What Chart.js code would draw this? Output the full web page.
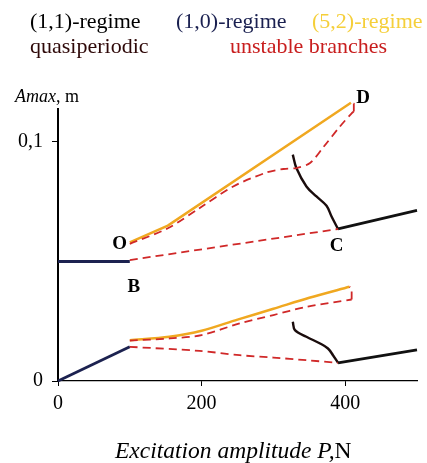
<!DOCTYPE html>
<html>
<head>
<meta charset="utf-8">
<script src="https://cdn.jsdelivr.net/npm/chart.js@4.4.1/dist/chart.umd.min.js"></script>
<style>
html, body { margin: 0; padding: 0; background: #fff; }
#wrap { position: relative; width: 427px; height: 463px; }
</style>
</head>
<body>
<div id="wrap"><canvas id="grafico" width="427" height="463"></canvas></div>
<script>
// Amax (m) vs excitation amplitude P (N)

const ticksP = [0, 200, 400];
const ticksA = [0, 0.1];

// (1,0)-regime
const p10Upper = [0, 100];
const a10Upper = [0.05, 0.05];
const p10Lower = [0, 100];
const a10Lower = [0, 0.0143];

// (1,1)-regime
const p11Upper = [390, 500];
const a11Upper = [0.0636, 0.0714];
const p11Lower = [390, 500];
const a11Lower = [0.0076, 0.013];

// (5,2)-regime
const p52Upper = [100, 153, 408];
const a52Upper = [0.058, 0.065, 0.1164];
const p52Lower = [100, 155, 200, 250, 300, 350, 406];
const a52Lower = [0.017, 0.0185, 0.021, 0.0257, 0.0302, 0.0348, 0.0394];

// quasiperiodic
const pQuasiUpper = [327, 332, 346, 360, 374, 381, 390];
const aQuasiUpper = [0.0947, 0.0891, 0.0814, 0.0772, 0.0733, 0.0688, 0.0636];
const pQuasiLower = [327, 330, 346, 365, 376, 383, 390];
const aQuasiLower = [0.0248, 0.0213, 0.0185, 0.0157, 0.0136, 0.0108, 0.0076];

// unstable branches
const pUnstUpper1 = [100, 153, 197, 244, 290, 314, 332, 351, 370, 393, 409, 412];
const aUnstUpper1 = [0.0574, 0.0639, 0.0723, 0.0814, 0.0872, 0.0887, 0.0891, 0.0912, 0.098, 0.1066, 0.112, 0.1128];
const pUnstUpper2 = [412, 412, 408];
const aUnstUpper2 = [0.1128, 0.116, 0.1164];
const pUnstUpper3 = [100, 390];
const aUnstUpper3 = [0.0506, 0.0636];
const pUnstLower1 = [100, 156, 200, 253, 300, 346, 409];
const aUnstLower1 = [0.0169, 0.0178, 0.0192, 0.0241, 0.0276, 0.031, 0.0341];
const pUnstLower2 = [409, 409, 406];
const aUnstLower2 = [0.0341, 0.0388, 0.0394];
const pUnstLower3 = [100, 197, 253, 300, 346, 390];
const aUnstLower3 = [0.0143, 0.0126, 0.0108, 0.0098, 0.0087, 0.0076];

// point labels
const pontosTexto = ["O", "B", "C", "D"];
const pontosP = [86, 105.5, 388, 425];
const pontosA = [0.0573, 0.0393, 0.0566, 0.1185];

const COR_11 = "#111111";
const COR_10 = "#1c2250";
const COR_52 = "#f0a820";
const COR_QUASI = "#1a0c0c";
const COR_UNST = "#d02828";
const SERIF = "'Liberation Serif', 'DejaVu Serif', serif";

function pares(xs, ys) {
    return xs.map((x, i) => ({ x: x, y: ys[i] }));
}

function serie(xs, ys, cor, largura, tensao, tracejado) {
    return {
        data: pares(xs, ys),
        borderColor: cor,
        borderWidth: largura,
        borderDash: tracejado ? [8, 5] : [],
        pointRadius: 0,
        tension: tensao,
        fill: false,
        clip: false
    };
}

const textos = {
    id: "textos",
    afterDraw(chart) {
        const ctx = chart.ctx;
        const sx = chart.scales.x;
        const sy = chart.scales.y;
        ctx.save();
        ctx.textBaseline = "middle";
        ctx.textAlign = "left";

        // legend
        ctx.font = "22px " + SERIF;
        ctx.fillStyle = "#000000";
        ctx.fillText("(1,1)-regime", 30, 22);
        ctx.fillStyle = "#1a2050";
        ctx.fillText("(1,0)-regime", 176, 22);
        ctx.fillStyle = "#f5cf3a";
        ctx.fillText("(5,2)-regime", 312, 22);
        ctx.fillStyle = "#2e0808";
        ctx.fillText("quasiperiodic", 30, 47);
        ctx.fillStyle = "#c81e1e";
        ctx.fillText("unstable branches", 230, 47);

        // y title
        ctx.fillStyle = "#000";
        ctx.font = "italic 18px " + SERIF;
        ctx.fillText("Amax", 15, 97);
        let w = ctx.measureText("Amax").width;
        ctx.font = "18px " + SERIF;
        ctx.fillText(", m", 15 + w, 97);

        // x title
        ctx.font = "italic 23.5px " + SERIF;
        ctx.fillText("Excitation amplitude P,", 115, 452);
        w = ctx.measureText("Excitation amplitude P,").width;
        ctx.font = "23.5px " + SERIF;
        ctx.fillText("N", 115 + w, 452);

        // O B C D
        ctx.font = "bold 19px " + SERIF;
        ctx.textAlign = "center";
        pontosTexto.forEach((t, i) => {
            ctx.fillText(t, sx.getPixelForValue(pontosP[i]), sy.getPixelForValue(pontosA[i]));
        });
        ctx.restore();
    }
};

new Chart(document.getElementById("grafico"), {
    type: "line",
    data: {
        datasets: [
            serie(pUnstUpper1, aUnstUpper1, COR_UNST, 1.8, 0.3, true),
            serie(pUnstUpper2, aUnstUpper2, COR_UNST, 1.8, 0, true),
            serie(pUnstUpper3, aUnstUpper3, COR_UNST, 1.8, 0, true),
            serie(pUnstLower1, aUnstLower1, COR_UNST, 1.8, 0.3, true),
            serie(pUnstLower2, aUnstLower2, COR_UNST, 1.8, 0, true),
            serie(pUnstLower3, aUnstLower3, COR_UNST, 1.8, 0.3, true),
            serie(p52Upper, a52Upper, COR_52, 2.5, 0, false),
            serie(p52Lower, a52Lower, COR_52, 2.5, 0.3, false),
            serie(p10Upper, a10Upper, COR_10, 2.8, 0, false),
            serie(p10Lower, a10Lower, COR_10, 2.8, 0, false),
            serie(p11Upper, a11Upper, COR_11, 2.8, 0, false),
            serie(p11Lower, a11Lower, COR_11, 2.8, 0, false),
            serie(pQuasiUpper, aQuasiUpper, COR_QUASI, 2.4, 0.35, false),
            serie(pQuasiLower, aQuasiLower, COR_QUASI, 2.4, 0.35, false)
        ]
    },
    options: {
        responsive: false,
        animation: false,
        layout: { padding: { left: 0, right: 10, top: 109, bottom: 0 } },
        plugins: { legend: { display: false }, tooltip: { enabled: false } },
        scales: {
            x: {
                type: "linear",
                min: 0,
                max: 500,
                afterBuildTicks: s => { s.ticks = ticksP.map(v => ({ value: v })); },
                afterFit: s => { s.height = 82; },
                grid: { drawOnChartArea: false, drawTicks: true, tickLength: 5, color: "#000" },
                border: { display: true, color: "#000", width: 1.2 },
                ticks: { color: "#000", padding: 6, maxRotation: 0, font: { family: SERIF, size: 20 } }
            },
            y: {
                type: "linear",
                min: 0,
                max: 0.1138,
                afterBuildTicks: s => { s.ticks = ticksA.map(v => ({ value: v })); },
                afterFit: s => { s.width = 58; },
                grid: { drawOnChartArea: false, drawTicks: true, tickLength: 6, color: "#000" },
                border: { display: true, color: "#000", width: 2 },
                ticks: {
                    color: "#000",
                    padding: 9,
                    font: { family: SERIF, size: 20 },
                    callback: v => String(v).replace(".", ",")
                }
            }
        }
    },
    plugins: [textos]
});
</script>
</body>
</html>
